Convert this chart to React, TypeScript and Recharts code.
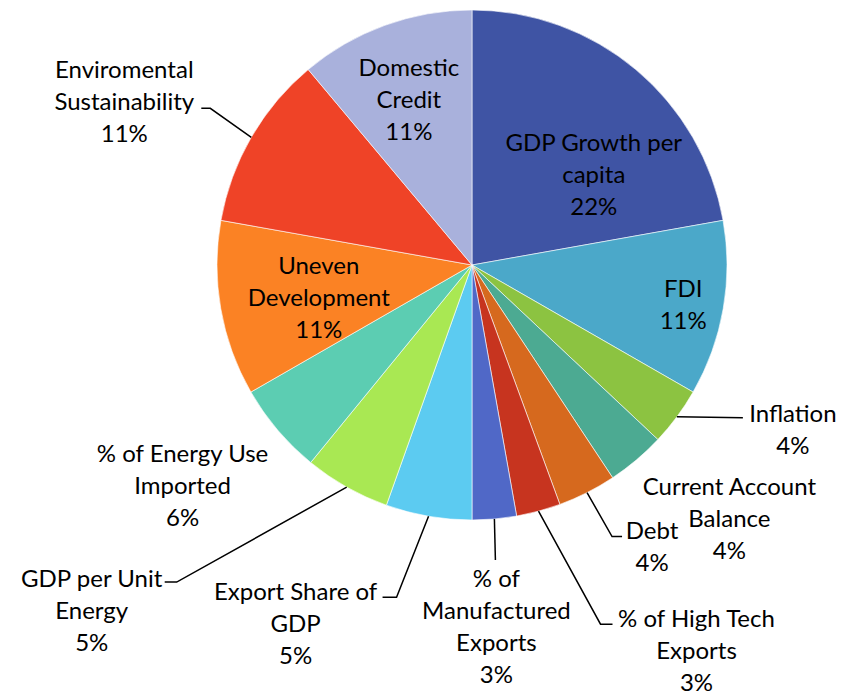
import { PieChart, Pie, Cell } from 'recharts';

const categories = [
  'GDP Growth per\ncapita',
  'FDI',
  'Inflation',
  'Current Account\nBalance',
  'Debt',
  '% of High Tech\nExports',
  '% of\nManufactured\nExports',
  'Export Share of\nGDP',
  'GDP per Unit\nEnergy',
  '% of Energy Use\nImported',
  'Uneven\nDevelopment',
  'Enviromental\nSustainability',
  'Domestic\nCredit',
];

const shares = [22.2, 11.1, 3.7, 3.7, 3.7, 2.8, 2.8, 5.45, 5.45, 5.8, 11.1, 11.1, 11.1];

const colors = [
  '#3f54a4', '#4ba8c9', '#8cc341', '#4caa92', '#d6691e', '#c7341f', '#5068c7',
  '#5ccbf1', '#a9e853', '#5ccdb2', '#fb8224', '#ef4327', '#a9b1dc',
];

// label placement relative to the slice's outer-edge midpoint; leader = elbow + horizontal tail
const labelLayout = [
  { dx: -42, dy: 104 },
  { dx: -40, dy: -5 },
  { dx: 116, dy: 12, leader: { ex: 66, ey: 1, tail: 0 } },
  { dx: 93, dy: 58 },
  { dx: 65, dy: 53, leader: { ex: 25, ey: 44, tail: 10 } },
  { dx: 158, dy: 138, leader: { ex: 62, ey: 113, tail: 12 } },
  { dx: 2, dy: 106, leader: { ex: 1, ey: 41, tail: 0 } },
  { dx: -133, dy: 106, leader: { ex: -32, ey: 81, tail: -14 } },
  { dx: -255, dy: 122, leader: { ex: -170, ey: 95, tail: -12 } },
  { dx: -95, dy: 55 },
  { dx: 98, dy: -12 },
  { dx: -127, dy: -37, leader: { ex: -41, ey: -29, tail: -9 } },
  { dx: 24, dy: 73 },
];

const data = categories.map((name, i) => ({ name, value: shares[i] }));

const RADIAN = Math.PI / 180;
const LINE_H = 32;

const renderLabel = (props: any) => {
  const { cx, cy, midAngle, outerRadius, percent, index } = props;
  const ax = cx + outerRadius * Math.cos(-midAngle * RADIAN);
  const ay = cy + outerRadius * Math.sin(-midAngle * RADIAN);
  const cfg = labelLayout[index];
  const lines = [...categories[index].split('\n'), `${Math.round(percent * 100)}%`];
  const tx = ax + cfg.dx;
  const ty = ay + cfg.dy - ((lines.length - 1) * LINE_H) / 2;
  const l = cfg.leader;
  return (
    <g key={`lbl-${index}`}>
      {l && (
        <polyline
          points={`${ax},${ay} ${ax + l.ex},${ay + l.ey} ${ax + l.ex + l.tail},${ay + l.ey}`}
          fill="none"
          stroke="#000"
          strokeWidth={1.5}
        />
      )}
      <text textAnchor="middle" fontSize={24} fill="#000" fontFamily="Lato, 'Open Sans', sans-serif">
        {lines.map((s, k) => (
          <tspan key={k} x={tx} y={ty + k * LINE_H} dominantBaseline="central">
            {s}
          </tspan>
        ))}
      </text>
    </g>
  );
};

export default function App() {
  return (
    <div style={{ position: 'absolute', left: 0, top: 0, background: '#fff' }}>
      <PieChart width={849} height={694} margin={{ top: 0, right: 0, bottom: 0, left: 0 }}>
        <Pie
          data={data}
          dataKey="value"
          nameKey="name"
          cx={472}
          cy={265}
          outerRadius={255}
          startAngle={90}
          endAngle={-270}
          stroke="#ffffff"
          strokeWidth={0.6}
          label={renderLabel}
          labelLine={false}
          isAnimationActive={false}
        >
          {data.map((d, i) => (
            <Cell key={d.name} fill={colors[i]} />
          ))}
        </Pie>
      </PieChart>
    </div>
  );
}
